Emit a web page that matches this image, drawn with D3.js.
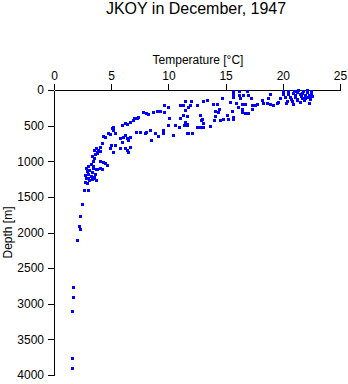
<!DOCTYPE html>
<html>
<head>
<meta charset="utf-8">
<script src="https://cdn.jsdelivr.net/npm/d3@7"></script>
<style>
  body { margin: 0; background: #fff; }
  svg { font-family: "Liberation Sans", Arial, sans-serif; }
  .axis text { font-size: 12px; fill: #000; }
  .axis path, .axis line { stroke: #000; shape-rendering: crispEdges; }
</style>
</head>
<body>
<svg width="348" height="384"></svg>
<script>
// temperature [deg C] and depth [m] for each sample
var temperature = [
  2.3, 2.2, 2.25, 2.05, 1.7, 1.63, 1.6, 1.55, 1.57, 2.65, 3.0, 2.48,
  2.7, 2.9, 3.1, 2.8, 3.0, 3.3, 2.75, 3.0, 3.2, 3.5, 3.7, 2.9, 3.1, 3.3, 3.4, 3.6, 2.8, 3.0,
  3.2, 3.4, 3.5, 3.3, 3.6, 3.8, 3.5, 3.7, 4.0, 3.4, 3.3, 3.45, 3.7,
  3.8, 4.17, 4.02, 4.46, 4.6, 4.3, 4.0,
  3.73, 3.87, 4.02, 4.17, 4.31, 4.46, 4.75, 4.9, 5.04, 5.18, 5.33, 5.13, 4.98, 5.33, 4.9, 5.18,
  5.77, 5.92, 6.06, 6.2, 6.35, 6.5, 6.64,
  5.77, 6.2, 6.35, 6.5, 6.64,
  5.92, 6.2, 6.4, 6.64, 6.88,
  7.02, 7.23, 7.37,
  7.8, 8.04, 8.24,
  8.68, 8.98, 9.27, 9.62, 9.99, 9.62,
  7.17, 7.52, 7.95, 8.04, 8.39, 8.45, 8.83, 9.06,
  9.55, 9.55, 9.99, 10.08, 10.38, 10.58, 10.95, 11.01, 11.45, 11.6, 11.6,
  11.01, 11.3, 11.45, 11.74,
  11.95, 11.45, 11.89,
  12.47, 13.05, 13.4, 13.93, 14.28, 14.66, 14.45, 14.07, 14.36, 14.05, 14.01, 14.51, 14.8, 15.24, 15.62, 15.62, 15.38, 15.53, 15.15,
  15.68, 15.68, 15.62, 16.2, 16.2, 16.26, 16.55, 16.84, 16.99,
  15.91, 16.4, 16.7, 17.19, 17.28, 17.57, 17.72,
  16.4, 16.7, 16.99, 17.28, 16.11, 16.4,
  18.15, 18.3, 18.59, 18.88, 19.17, 18.73, 18.88, 19.46, 19.6, 19.75,
  19.99, 19.99, 20.48, 20.48,
  20.95, 21.35, 21.8, 22.15, 22.5, 20.9, 21.25, 21.7, 22.1, 22.45, 21.05, 21.5, 21.9, 22.3, 22.55,
  20.34, 20.78, 20.92, 21.27, 21.5, 21.94, 22.32, 21.65, 22.23,
  20.6, 21.1, 21.55, 22.0, 22.4, 20.7, 21.2, 21.85, 22.35, 20.15, 20.3,
  11.3, 11.65, 11.36, 11.65, 11.74, 12.03, 12.47, 12.76, 13.05, 13.64, 12.91, 13.05, 12.76, 12.82
];
var depth = [
  1764, 1909, 1946, 2110, 2770, 2905, 3100, 3760, 3906, 1408, 1408, 1600,
  1290, 1310, 1270, 1240, 1230, 1250, 1190, 1180, 1200, 1220, 1270, 1140, 1120, 1150, 1100, 1180, 1100, 1070,
  1040, 1000, 960, 930, 900, 880, 840, 820, 850, 1060, 1240, 1240, 1110,
  1113, 1113, 1099, 1029, 1053, 1005, 990,
  866, 842, 796, 748, 646, 655, 608, 622, 538, 561, 608, 515, 772, 772, 818, 866,
  678, 726, 655, 632, 678, 702, 655,
  818, 818, 842, 866, 796,
  491, 467, 477, 445, 421,
  397, 397, 383,
  313, 327, 341,
  313, 295, 295, 313, 234, 211,
  585, 594, 608, 585, 561, 702, 599, 646,
  561, 608, 491, 397, 632, 491, 515, 397, 445, 608, 491,
  211, 211, 150, 234,
  154, 281, 211,
  211, 154, 140, 196, 196, 117, 271, 295, 304, 365, 421, 421, 412, 412, 412, 374, 164, 290, 351,
  10, 56, 103, 10, 70, 117, 70, 10, 70,
  178, 196, 201, 108, 211, 211, 196,
  304, 318, 318, 271, 243, 271,
  140, 178, 187, 196, 211, 117, 61, 178, 164, 117,
  10, 56, 10, 56,
  8, 4, 10, 6, 12, 38, 30, 42, 34, 40, 66, 60, 72, 64, 80,
  154, 154, 196, 131, 164, 117, 187, 117, 94,
  100, 95, 88, 100, 110, 125, 140, 145, 130, 95, 180,
  351, 365, 491, 477, 608, 608, 524, 515, 515, 505, 412, 459, 351, 421
];
var tempTicks = [0, 5, 10, 15, 20, 25];
var depthTicks = [0, 500, 1000, 1500, 2000, 2500, 3000, 3500, 4000];

var svg = d3.select("svg"),
    margin = {top: 90, right: 8, bottom: 9, left: 54},
    width = +svg.attr("width") - margin.left - margin.right,
    height = +svg.attr("height") - margin.top - margin.bottom;

var x = d3.scaleLinear().domain([0, 25]).range([0, width]);
var y = d3.scaleLinear().domain([0, 4000]).range([0, height]);

var g = svg.append("g").attr("transform", "translate(" + margin.left + "," + margin.top + ")");

g.append("g")
    .attr("class", "axis")
    .call(d3.axisTop(x).tickValues(tempTicks).tickFormat(d3.format("d"))
          .tickSize(6).tickSizeOuter(0).tickPadding(4));

g.append("g")
    .attr("class", "axis")
    .call(d3.axisLeft(y).tickValues(depthTicks).tickFormat(d3.format("d"))
          .tickSize(6).tickSizeOuter(0).tickPadding(4));

var points = temperature.map(function (t, i) { return {t: t, d: depth[i]}; });

g.selectAll(".pt")
    .data(points)
    .enter().append("rect")
    .attr("class", "pt")
    .attr("x", function (d) { return Math.round(x(d.t)) - 1; })
    .attr("y", function (d) { return Math.round(y(d.d)) - 1; })
    .attr("width", 3)
    .attr("height", 3)
    .attr("fill", "#0000ff")
    .attr("shape-rendering", "crispEdges");

svg.append("text")
    .attr("x", 196)
    .attr("y", 14)
    .attr("text-anchor", "middle")
    .attr("font-size", 16)
    .text("JKOY in December, 1947");

svg.append("text")
    .attr("x", 198)
    .attr("y", 64)
    .attr("text-anchor", "middle")
    .attr("font-size", 12)
    .text("Temperature [°C]");

svg.append("text")
    .attr("transform", "translate(12," + (margin.top + height / 2) + ") rotate(-90)")
    .attr("text-anchor", "middle")
    .attr("font-size", 12)
    .text("Depth [m]");
</script>
</body>
</html>
